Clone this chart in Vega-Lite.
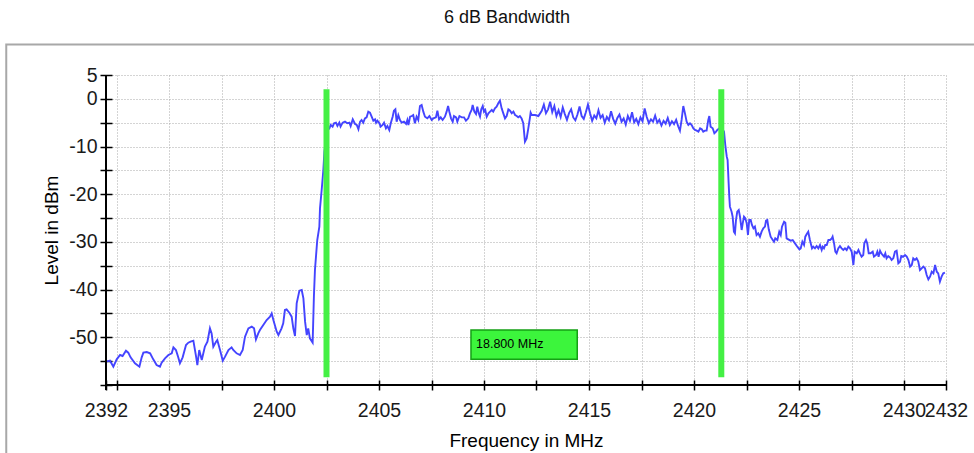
{
  "$schema": "https://vega.github.io/schema/vega-lite/v6.json",
  "width": 840,
  "height": 310,
  "autosize": {"type": "none"},
  "padding": {"left": 106, "top": 75, "right": 28, "bottom": 68},
  "background": "white",
  "title": {"text": "6 dB Bandwidth", "frame": "group", "anchor": "middle", "dx": -19, "offset": 16, "fontSize": 18, "font": "Liberation Sans", "fontWeight": "normal", "color": "#111111"},
  "config": {
    "view": {"stroke": null},
    "axis": {"labelFont": "Liberation Sans", "labelFontSize": 19.5, "labelColor": "#1a1a1a", "titleFont": "Liberation Sans", "titleFontSize": 19, "titleFontWeight": "normal", "titleColor": "#000000", "gridColor": "#a8a8a8", "gridDash": [1, 2], "gridWidth": 1, "gridOpacity": 1, "tickColor": "#000000", "domain": false}
  },
  "datasets": {
    "trace": [
      {"f": 2392.0, "dbm": -55.11}, {"f": 2392.19, "dbm": -54.9}, {"f": 2392.35, "dbm": -56.16}, {"f": 2392.51, "dbm": -54.62}, {"f": 2392.67, "dbm": -53.71}, {"f": 2392.79, "dbm": -53.92}, {"f": 2392.95, "dbm": -52.8}, {"f": 2393.06, "dbm": -53.22}, {"f": 2393.17, "dbm": -54.2}, {"f": 2393.38, "dbm": -55.46}, {"f": 2393.59, "dbm": -56.16}, {"f": 2393.7, "dbm": -54.2}, {"f": 2393.78, "dbm": -53.22}, {"f": 2393.94, "dbm": -53.08}, {"f": 2394.1, "dbm": -53.36}, {"f": 2394.25, "dbm": -54.62}, {"f": 2394.41, "dbm": -55.81}, {"f": 2394.57, "dbm": -56.16}, {"f": 2394.65, "dbm": -55.32}, {"f": 2394.81, "dbm": -54.41}, {"f": 2394.97, "dbm": -53.71}, {"f": 2395.13, "dbm": -53.36}, {"f": 2395.21, "dbm": -52.1}, {"f": 2395.33, "dbm": -52.66}, {"f": 2395.44, "dbm": -54.2}, {"f": 2395.52, "dbm": -55.46}, {"f": 2395.65, "dbm": -54.2}, {"f": 2395.81, "dbm": -51.62}, {"f": 2395.92, "dbm": -51.13}, {"f": 2396.03, "dbm": -50.92}, {"f": 2396.16, "dbm": -50.71}, {"f": 2396.29, "dbm": -54.06}, {"f": 2396.35, "dbm": -55.81}, {"f": 2396.44, "dbm": -52.66}, {"f": 2396.56, "dbm": -54.76}, {"f": 2396.71, "dbm": -51.96}, {"f": 2396.83, "dbm": -50.92}, {"f": 2396.95, "dbm": -48.12}, {"f": 2397.03, "dbm": -49.17}, {"f": 2397.11, "dbm": -51.96}, {"f": 2397.24, "dbm": -50.92}, {"f": 2397.3, "dbm": -50.57}, {"f": 2397.43, "dbm": -52.66}, {"f": 2397.56, "dbm": -54.9}, {"f": 2397.67, "dbm": -54.06}, {"f": 2397.83, "dbm": -52.66}, {"f": 2397.98, "dbm": -52.1}, {"f": 2398.06, "dbm": -52.66}, {"f": 2398.22, "dbm": -53.36}, {"f": 2398.38, "dbm": -53.71}, {"f": 2398.51, "dbm": -52.66}, {"f": 2398.62, "dbm": -49.87}, {"f": 2398.78, "dbm": -48.12}, {"f": 2398.94, "dbm": -47.77}, {"f": 2399.05, "dbm": -48.12}, {"f": 2399.14, "dbm": -50.43}, {"f": 2399.25, "dbm": -49.17}, {"f": 2399.33, "dbm": -48.47}, {"f": 2399.49, "dbm": -47.42}, {"f": 2399.65, "dbm": -46.37}, {"f": 2399.81, "dbm": -45.67}, {"f": 2399.89, "dbm": -44.98}, {"f": 2399.97, "dbm": -46.37}, {"f": 2400.13, "dbm": -48.82}, {"f": 2400.21, "dbm": -49.52}, {"f": 2400.36, "dbm": -48.12}, {"f": 2400.44, "dbm": -47.07}, {"f": 2400.52, "dbm": -44.28}, {"f": 2400.6, "dbm": -44.14}, {"f": 2400.73, "dbm": -44.84}, {"f": 2400.84, "dbm": -45.67}, {"f": 2400.92, "dbm": -48.12}, {"f": 2401.0, "dbm": -49.73}, {"f": 2401.08, "dbm": -42.88}, {"f": 2401.21, "dbm": -40.22}, {"f": 2401.32, "dbm": -40.08}, {"f": 2401.4, "dbm": -41.83}, {"f": 2401.48, "dbm": -46.72}, {"f": 2401.56, "dbm": -49.52}, {"f": 2401.63, "dbm": -48.12}, {"f": 2401.71, "dbm": -50.22}, {"f": 2401.84, "dbm": -51.13}, {"f": 2401.9, "dbm": -41.48}, {"f": 2401.95, "dbm": -35.89},
      {"f": 2402.06, "dbm": -29.6}, {"f": 2402.16, "dbm": -26.8}, {"f": 2402.19, "dbm": -22.96}, {"f": 2402.27, "dbm": -19.11}, {"f": 2402.35, "dbm": -14.92}, {"f": 2402.4, "dbm": -11.08}, {"f": 2402.48, "dbm": -8.28}, {"f": 2402.56, "dbm": -6.53}, {"f": 2402.64, "dbm": -6.18}, {"f": 2402.7, "dbm": -5.48}, {"f": 2402.79, "dbm": -5.83}, {"f": 2402.86, "dbm": -5.13}, {"f": 2402.95, "dbm": -4.99}, {"f": 2403.02, "dbm": -5.69}, {"f": 2403.11, "dbm": -4.99}, {"f": 2403.17, "dbm": -5.83}, {"f": 2403.27, "dbm": -4.99}, {"f": 2403.38, "dbm": -4.78}, {"f": 2403.49, "dbm": -5.13}, {"f": 2403.59, "dbm": -4.99}, {"f": 2403.65, "dbm": -5.69}, {"f": 2403.75, "dbm": -4.3}, {"f": 2403.86, "dbm": -5.27}, {"f": 2403.94, "dbm": -5.48}, {"f": 2404.02, "dbm": -6.39}, {"f": 2404.1, "dbm": -4.78}, {"f": 2404.17, "dbm": -4.43}, {"f": 2404.25, "dbm": -4.99}, {"f": 2404.33, "dbm": -4.09}, {"f": 2404.41, "dbm": -3.88}, {"f": 2404.49, "dbm": -2.69}, {"f": 2404.57, "dbm": -2.9}, {"f": 2404.65, "dbm": -3.74}, {"f": 2404.73, "dbm": -4.57}, {"f": 2404.81, "dbm": -4.3}, {"f": 2404.86, "dbm": -4.99}, {"f": 2404.92, "dbm": -4.57}, {"f": 2405.02, "dbm": -5.13}, {"f": 2405.08, "dbm": -5.83}, {"f": 2405.17, "dbm": -5.48}, {"f": 2405.24, "dbm": -4.99}, {"f": 2405.33, "dbm": -6.18}, {"f": 2405.4, "dbm": -5.69}, {"f": 2405.49, "dbm": -6.53}, {"f": 2405.56, "dbm": -5.13}, {"f": 2405.65, "dbm": -3.74}, {"f": 2405.71, "dbm": -2.48}, {"f": 2405.78, "dbm": -2.2}, {"f": 2405.84, "dbm": -4.78}, {"f": 2405.92, "dbm": -3.39}, {"f": 2406.0, "dbm": -4.43}, {"f": 2406.08, "dbm": -4.99}, {"f": 2406.19, "dbm": -4.78}, {"f": 2406.29, "dbm": -5.27}, {"f": 2406.35, "dbm": -4.43}, {"f": 2406.4, "dbm": -5.48}, {"f": 2406.48, "dbm": -3.74}, {"f": 2406.56, "dbm": -3.6}, {"f": 2406.63, "dbm": -3.39}, {"f": 2406.71, "dbm": -5.13}, {"f": 2406.79, "dbm": -3.74}, {"f": 2406.87, "dbm": -4.43}, {"f": 2406.95, "dbm": -1.5}, {"f": 2407.03, "dbm": -1.29}, {"f": 2407.11, "dbm": -2.69}, {"f": 2407.19, "dbm": -3.74}, {"f": 2407.3, "dbm": -4.09}, {"f": 2407.4, "dbm": -3.6}, {"f": 2407.51, "dbm": -4.43}, {"f": 2407.59, "dbm": -4.09}, {"f": 2407.71, "dbm": -3.88}, {"f": 2407.78, "dbm": -2.48}, {"f": 2407.86, "dbm": -4.3}, {"f": 2407.94, "dbm": -3.88}, {"f": 2408.03, "dbm": -4.43}, {"f": 2408.14, "dbm": -3.74}, {"f": 2408.22, "dbm": -2.69}, {"f": 2408.29, "dbm": -1.5}, {"f": 2408.35, "dbm": -2.69}, {"f": 2408.43, "dbm": -4.09}, {"f": 2408.51, "dbm": -4.78}, {"f": 2408.57, "dbm": -3.6}, {"f": 2408.67, "dbm": -3.88}, {"f": 2408.73, "dbm": -4.78}, {"f": 2408.83, "dbm": -3.6}, {"f": 2408.94, "dbm": -3.88}, {"f": 2409.05, "dbm": -3.88}, {"f": 2409.14, "dbm": -4.57}, {"f": 2409.25, "dbm": -4.09}, {"f": 2409.33, "dbm": -3.04}, {"f": 2409.41, "dbm": -2.34}, {"f": 2409.46, "dbm": -1.29}, {"f": 2409.54, "dbm": -2.69}, {"f": 2409.62, "dbm": -3.18}, {"f": 2409.68, "dbm": -1.64}, {"f": 2409.75, "dbm": -3.04}, {"f": 2409.81, "dbm": -3.74}, {"f": 2409.87, "dbm": -2.2}, {"f": 2409.94, "dbm": -1.5}, {"f": 2410.0, "dbm": -2.69}, {"f": 2410.06, "dbm": -2.34}, {"f": 2410.13, "dbm": -3.74}, {"f": 2410.21, "dbm": -3.04}, {"f": 2410.29, "dbm": -2.69}, {"f": 2410.37, "dbm": -2.34}, {"f": 2410.44, "dbm": -2.69}, {"f": 2410.52, "dbm": -1.99}, {"f": 2410.6, "dbm": -1.64}, {"f": 2410.68, "dbm": -0.94}, {"f": 2410.76, "dbm": -0.38}, {"f": 2410.84, "dbm": -1.99}, {"f": 2410.92, "dbm": -3.04}, {"f": 2411.0, "dbm": -4.09}, {"f": 2411.08, "dbm": -3.6}, {"f": 2411.16, "dbm": -2.2}, {"f": 2411.24, "dbm": -2.48}, {"f": 2411.32, "dbm": -3.04}, {"f": 2411.4, "dbm": -2.69}, {"f": 2411.48, "dbm": -3.39}, {"f": 2411.56, "dbm": -3.6}, {"f": 2411.63, "dbm": -3.88}, {"f": 2411.71, "dbm": -3.6}, {"f": 2411.79, "dbm": -4.09}, {"f": 2411.87, "dbm": -5.13}, {"f": 2411.95, "dbm": -8.98}, {"f": 2412.03, "dbm": -8.28}, {"f": 2412.11, "dbm": -6.18}, {"f": 2412.19, "dbm": -3.88}, {"f": 2412.22, "dbm": -2.9}, {"f": 2412.27, "dbm": -3.39}, {"f": 2412.43, "dbm": -3.39}, {"f": 2412.59, "dbm": -3.6},
      {"f": 2412.75, "dbm": -2.5}, {"f": 2412.85, "dbm": -1.2}, {"f": 2412.95, "dbm": -3.0}, {"f": 2413.05, "dbm": -2.2}, {"f": 2413.15, "dbm": -0.6}, {"f": 2413.25, "dbm": -2.8}, {"f": 2413.35, "dbm": -1.5}, {"f": 2413.45, "dbm": -3.6}, {"f": 2413.55, "dbm": -2.4}, {"f": 2413.65, "dbm": -3.8}, {"f": 2413.75, "dbm": -1.8}, {"f": 2413.85, "dbm": -3.2}, {"f": 2413.95, "dbm": -4.4}, {"f": 2414.05, "dbm": -3.0}, {"f": 2414.15, "dbm": -2.2}, {"f": 2414.25, "dbm": -3.9}, {"f": 2414.35, "dbm": -4.5}, {"f": 2414.45, "dbm": -3.3}, {"f": 2414.55, "dbm": -1.6}, {"f": 2414.65, "dbm": -3.6}, {"f": 2414.75, "dbm": -4.2}, {"f": 2414.85, "dbm": -2.8}, {"f": 2414.95, "dbm": -1.2}, {"f": 2415.05, "dbm": -3.0}, {"f": 2415.15, "dbm": -4.6}, {"f": 2415.25, "dbm": -3.5}, {"f": 2415.35, "dbm": -4.1}, {"f": 2415.45, "dbm": -2.4}, {"f": 2415.55, "dbm": -4.0}, {"f": 2415.65, "dbm": -3.4}, {"f": 2415.75, "dbm": -5.0}, {"f": 2415.85, "dbm": -3.8}, {"f": 2415.95, "dbm": -4.5}, {"f": 2416.05, "dbm": -2.6}, {"f": 2416.15, "dbm": -4.2}, {"f": 2416.25, "dbm": -5.2}, {"f": 2416.35, "dbm": -4.0}, {"f": 2416.45, "dbm": -3.3}, {"f": 2416.55, "dbm": -4.8}, {"f": 2416.65, "dbm": -4.1}, {"f": 2416.75, "dbm": -5.4}, {"f": 2416.85, "dbm": -3.6}, {"f": 2416.95, "dbm": -4.6}, {"f": 2417.05, "dbm": -2.8}, {"f": 2417.15, "dbm": -4.9}, {"f": 2417.25, "dbm": -4.2}, {"f": 2417.35, "dbm": -5.3}, {"f": 2417.45, "dbm": -3.9}, {"f": 2417.55, "dbm": -4.7}, {"f": 2417.65, "dbm": -2.0}, {"f": 2417.75, "dbm": -3.8}, {"f": 2417.85, "dbm": -5.1}, {"f": 2417.95, "dbm": -4.3}, {"f": 2418.05, "dbm": -4.8}, {"f": 2418.15, "dbm": -3.5}, {"f": 2418.25, "dbm": -5.0}, {"f": 2418.35, "dbm": -4.4}, {"f": 2418.45, "dbm": -5.6}, {"f": 2418.55, "dbm": -4.6}, {"f": 2418.65, "dbm": -5.2}, {"f": 2418.75, "dbm": -4.0}, {"f": 2418.85, "dbm": -5.5}, {"f": 2418.95, "dbm": -4.7}, {"f": 2419.05, "dbm": -5.3}, {"f": 2419.15, "dbm": -4.4}, {"f": 2419.25, "dbm": -5.8},
      {"f": 2419.33, "dbm": -6.67}, {"f": 2419.41, "dbm": -4.43}, {"f": 2419.49, "dbm": -1.5}, {"f": 2419.57, "dbm": -3.04}, {"f": 2419.65, "dbm": -4.78}, {"f": 2419.73, "dbm": -5.48}, {"f": 2419.81, "dbm": -5.13}, {"f": 2419.89, "dbm": -5.48}, {"f": 2419.97, "dbm": -6.18}, {"f": 2420.05, "dbm": -6.53}, {"f": 2420.13, "dbm": -6.67}, {"f": 2420.21, "dbm": -6.88}, {"f": 2420.29, "dbm": -6.18}, {"f": 2420.37, "dbm": -6.39}, {"f": 2420.44, "dbm": -6.88}, {"f": 2420.52, "dbm": -6.67}, {"f": 2420.6, "dbm": -6.67}, {"f": 2420.68, "dbm": -4.43}, {"f": 2420.73, "dbm": -3.6}, {"f": 2420.79, "dbm": -5.83}, {"f": 2420.89, "dbm": -6.18}, {"f": 2420.97, "dbm": -7.23}, {"f": 2421.05, "dbm": -6.88}, {"f": 2421.11, "dbm": -6.53}, {"f": 2421.21, "dbm": -6.18}, {"f": 2421.29, "dbm": -6.53}, {"f": 2421.37, "dbm": -6.39}, {"f": 2421.43, "dbm": -6.88}, {"f": 2421.49, "dbm": -9.68}, {"f": 2421.56, "dbm": -12.12}, {"f": 2421.6, "dbm": -12.82}, {"f": 2421.65, "dbm": -17.72}, {"f": 2421.68, "dbm": -20.51}, {"f": 2421.71, "dbm": -22.61}, {"f": 2421.79, "dbm": -23.66}, {"f": 2421.84, "dbm": -24.71}, {"f": 2421.9, "dbm": -27.85}, {"f": 2421.95, "dbm": -28.2}, {"f": 2422.0, "dbm": -25.4}, {"f": 2422.06, "dbm": -23.66}, {"f": 2422.13, "dbm": -23.31}, {"f": 2422.19, "dbm": -24.71}, {"f": 2422.27, "dbm": -27.5}, {"f": 2422.32, "dbm": -26.1}, {"f": 2422.38, "dbm": -24.71}, {"f": 2422.44, "dbm": -25.05}, {"f": 2422.51, "dbm": -26.1}, {"f": 2422.57, "dbm": -28.55}, {"f": 2422.63, "dbm": -25.4}, {"f": 2422.7, "dbm": -25.4}, {"f": 2422.76, "dbm": -26.45}, {"f": 2422.83, "dbm": -27.15}, {"f": 2422.9, "dbm": -26.8}, {"f": 2422.98, "dbm": -28.55}, {"f": 2423.06, "dbm": -28.2}, {"f": 2423.14, "dbm": -28.9}, {"f": 2423.22, "dbm": -27.85}, {"f": 2423.3, "dbm": -27.15}, {"f": 2423.38, "dbm": -26.8}, {"f": 2423.43, "dbm": -25.54}, {"f": 2423.49, "dbm": -25.4}, {"f": 2423.56, "dbm": -27.36}, {"f": 2423.65, "dbm": -28.9}, {"f": 2423.75, "dbm": -29.6}, {"f": 2423.81, "dbm": -29.95}, {"f": 2423.87, "dbm": -29.25}, {"f": 2423.97, "dbm": -29.6}, {"f": 2424.06, "dbm": -27.85}, {"f": 2424.13, "dbm": -28.55}, {"f": 2424.19, "dbm": -26.8}, {"f": 2424.29, "dbm": -25.75}, {"f": 2424.35, "dbm": -25.96}, {"f": 2424.41, "dbm": -29.25}, {"f": 2424.49, "dbm": -29.46}, {"f": 2424.6, "dbm": -29.74}, {"f": 2424.7, "dbm": -29.6}, {"f": 2424.81, "dbm": -30.3}, {"f": 2424.92, "dbm": -31.0}, {"f": 2425.02, "dbm": -31.56}, {"f": 2425.08, "dbm": -31.35}, {"f": 2425.16, "dbm": -29.95}, {"f": 2425.24, "dbm": -30.65}, {"f": 2425.3, "dbm": -28.9}, {"f": 2425.37, "dbm": -28.34}, {"f": 2425.44, "dbm": -27.85}, {"f": 2425.52, "dbm": -29.6}, {"f": 2425.62, "dbm": -31.35}, {"f": 2425.68, "dbm": -31.0}, {"f": 2425.76, "dbm": -31.35}, {"f": 2425.84, "dbm": -30.86}, {"f": 2425.92, "dbm": -31.35}, {"f": 2426.0, "dbm": -30.65}, {"f": 2426.08, "dbm": -31.7}, {"f": 2426.13, "dbm": -31.0}, {"f": 2426.19, "dbm": -31.35}, {"f": 2426.25, "dbm": -30.65}, {"f": 2426.32, "dbm": -30.65}, {"f": 2426.4, "dbm": -29.6}, {"f": 2426.48, "dbm": -29.6}, {"f": 2426.56, "dbm": -29.25}, {"f": 2426.6, "dbm": -28.9}, {"f": 2426.67, "dbm": -30.3}, {"f": 2426.73, "dbm": -32.05}, {"f": 2426.79, "dbm": -32.39}, {"f": 2426.87, "dbm": -31.35}, {"f": 2426.95, "dbm": -30.86}, {"f": 2427.03, "dbm": -31.35}, {"f": 2427.11, "dbm": -31.7}, {"f": 2427.19, "dbm": -31.35}, {"f": 2427.27, "dbm": -31.7}, {"f": 2427.35, "dbm": -31.0}, {"f": 2427.43, "dbm": -31.35}, {"f": 2427.51, "dbm": -32.05}, {"f": 2427.59, "dbm": -34.84}, {"f": 2427.65, "dbm": -32.05}, {"f": 2427.75, "dbm": -32.39}, {"f": 2427.83, "dbm": -31.7}, {"f": 2427.9, "dbm": -32.39}, {"f": 2427.98, "dbm": -33.09}, {"f": 2428.06, "dbm": -32.74}, {"f": 2428.11, "dbm": -30.3}, {"f": 2428.19, "dbm": -29.6}, {"f": 2428.25, "dbm": -30.3}, {"f": 2428.32, "dbm": -32.39}, {"f": 2428.41, "dbm": -32.39}, {"f": 2428.51, "dbm": -32.05}, {"f": 2428.57, "dbm": -33.09}, {"f": 2428.67, "dbm": -32.74}, {"f": 2428.73, "dbm": -32.05}, {"f": 2428.79, "dbm": -33.09}, {"f": 2428.86, "dbm": -31.84}, {"f": 2428.92, "dbm": -32.39}, {"f": 2428.98, "dbm": -32.74}, {"f": 2429.05, "dbm": -33.09}, {"f": 2429.11, "dbm": -32.39}, {"f": 2429.17, "dbm": -33.44}, {"f": 2429.25, "dbm": -32.95}, {"f": 2429.33, "dbm": -33.23}, {"f": 2429.41, "dbm": -33.79}, {"f": 2429.49, "dbm": -33.44}, {"f": 2429.57, "dbm": -32.05}, {"f": 2429.65, "dbm": -31.84}, {"f": 2429.73, "dbm": -34.49}, {"f": 2429.81, "dbm": -34.14}, {"f": 2429.87, "dbm": -32.95}, {"f": 2429.97, "dbm": -33.09}, {"f": 2430.05, "dbm": -32.74}, {"f": 2430.13, "dbm": -33.09}, {"f": 2430.21, "dbm": -33.79}, {"f": 2430.29, "dbm": -35.19}, {"f": 2430.37, "dbm": -34.84}, {"f": 2430.44, "dbm": -33.44}, {"f": 2430.52, "dbm": -33.79}, {"f": 2430.6, "dbm": -33.44}, {"f": 2430.68, "dbm": -34.14}, {"f": 2430.76, "dbm": -35.89}, {"f": 2430.84, "dbm": -35.54}, {"f": 2430.92, "dbm": -35.19}, {"f": 2431.0, "dbm": -35.54}, {"f": 2431.08, "dbm": -36.94}, {"f": 2431.16, "dbm": -37.85}, {"f": 2431.24, "dbm": -37.29}, {"f": 2431.32, "dbm": -36.24}, {"f": 2431.4, "dbm": -36.59}, {"f": 2431.48, "dbm": -34.84}, {"f": 2431.56, "dbm": -36.24}, {"f": 2431.63, "dbm": -36.59}, {"f": 2431.71, "dbm": -38.34}, {"f": 2431.79, "dbm": -37.29}, {"f": 2431.87, "dbm": -36.59}, {"f": 2431.95, "dbm": -36.45}
    ],
    "markers": [{"freq": 2402.5}, {"freq": 2421.3}],
    "bw": [{"label": "18.800 MHz"}]
  },
  "layer": [
    {
      "data": {"values": [{}]},
      "mark": {"type": "rect", "fill": null, "stroke": "#a8a8a8", "strokeWidth": 2},
      "encoding": {
        "x": {"datum": 2387.25, "type": "quantitative", "scale": {"domain": [2392, 2432], "nice": false, "zero": false}},
        "x2": {"datum": 2434.5},
        "y": {"datum": 11.4, "type": "quantitative", "scale": {"domain": [-60, 5], "nice": false, "zero": false}},
        "y2": {"datum": -85}
      }
    },
    {
      "data": {"name": "trace"},
      "mark": {"type": "line", "color": "#4444ff", "strokeWidth": 1.9},
      "encoding": {
        "x": {"field": "f", "type": "quantitative", "title": "Frequency in MHz",
          "scale": {"domain": [2392, 2432], "nice": false, "zero": false},
          "axis": {"values": [2392, 2392.5, 2395, 2397.5, 2400, 2402.5, 2405, 2407.5, 2410, 2412.5, 2415, 2417.5, 2420, 2422.5, 2425, 2427.5, 2430, 2431.9999],
            "labelExpr": "datum.value > 2431.9 ? '2432' : (datum.value % 5 == 0 || datum.value == 2392 ? '' + datum.value : '')",
            "tickCount": 40, "offset": -5, "tickSize": 10, "tickWidth": 1.5, "labelPadding": 11, "titlePadding": 12, "grid": true, "labelFlush": false, "labelOverlap": false}},
        "y": {"field": "dbm", "type": "quantitative", "title": "Level in dBm",
          "scale": {"domain": [-60, 5], "nice": false, "zero": false},
          "axis": {"values": [4.9999, 0, -5, -10, -15, -20, -25, -30, -35, -40, -45, -50, -55, -60],
            "labelExpr": "datum.value > 4.9 ? '5' : ((datum.value % 10 == 0 && datum.value > -60) ? '' + datum.value : '')",
            "tickCount": 40, "offset": -6, "tickSize": 12, "tickWidth": 1.5, "labelPadding": 3, "titlePadding": 7, "grid": true, "labelFlush": false, "labelOverlap": false, "labelBound": false}}
      }
    },
    {
      "data": {"name": "markers"},
      "mark": {"type": "rule", "color": "#44f044", "strokeWidth": 6},
      "encoding": {
        "x": {"field": "freq", "type": "quantitative", "scale": {"domain": [2392, 2432], "nice": false, "zero": false}},
        "y": {"datum": 2.0, "type": "quantitative", "scale": {"domain": [-60, 5], "nice": false, "zero": false}},
        "y2": {"datum": -58.4}
      }
    },
    {
      "data": {"values": [{}]},
      "mark": {"type": "rule", "color": "#000000", "strokeWidth": 2},
      "encoding": {
        "x": {"datum": 2392, "type": "quantitative", "scale": {"domain": [2392, 2432], "nice": false, "zero": false}},
        "y": {"datum": 5, "type": "quantitative", "scale": {"domain": [-60, 5], "nice": false, "zero": false}},
        "y2": {"datum": -61.05}
      }
    },
    {
      "data": {"values": [{}]},
      "mark": {"type": "rule", "color": "#000000", "strokeWidth": 2},
      "encoding": {
        "x": {"datum": 2392, "type": "quantitative", "scale": {"domain": [2392, 2432], "nice": false, "zero": false}},
        "x2": {"datum": 2432},
        "y": {"datum": -60, "type": "quantitative", "scale": {"domain": [-60, 5], "nice": false, "zero": false}}
      }
    },
    {
      "data": {"name": "bw"},
      "mark": {"type": "rect", "fill": "#3cf53c", "stroke": "#15a015", "strokeWidth": 1.5},
      "encoding": {
        "x": {"datum": 2409.38, "type": "quantitative", "scale": {"domain": [2392, 2432], "nice": false, "zero": false}},
        "x2": {"datum": 2414.44},
        "y": {"datum": -48.47, "type": "quantitative", "scale": {"domain": [-60, 5], "nice": false, "zero": false}},
        "y2": {"datum": -54.6}
      }
    },
    {
      "data": {"name": "bw"},
      "mark": {"type": "text", "align": "left", "baseline": "middle", "font": "Liberation Sans", "fontSize": 12.5, "color": "#000000"},
      "encoding": {
        "x": {"datum": 2409.62, "type": "quantitative", "scale": {"domain": [2392, 2432], "nice": false, "zero": false}},
        "y": {"datum": -51.5, "type": "quantitative", "scale": {"domain": [-60, 5], "nice": false, "zero": false}},
        "text": {"field": "label"}
      }
    }
  ]
}
